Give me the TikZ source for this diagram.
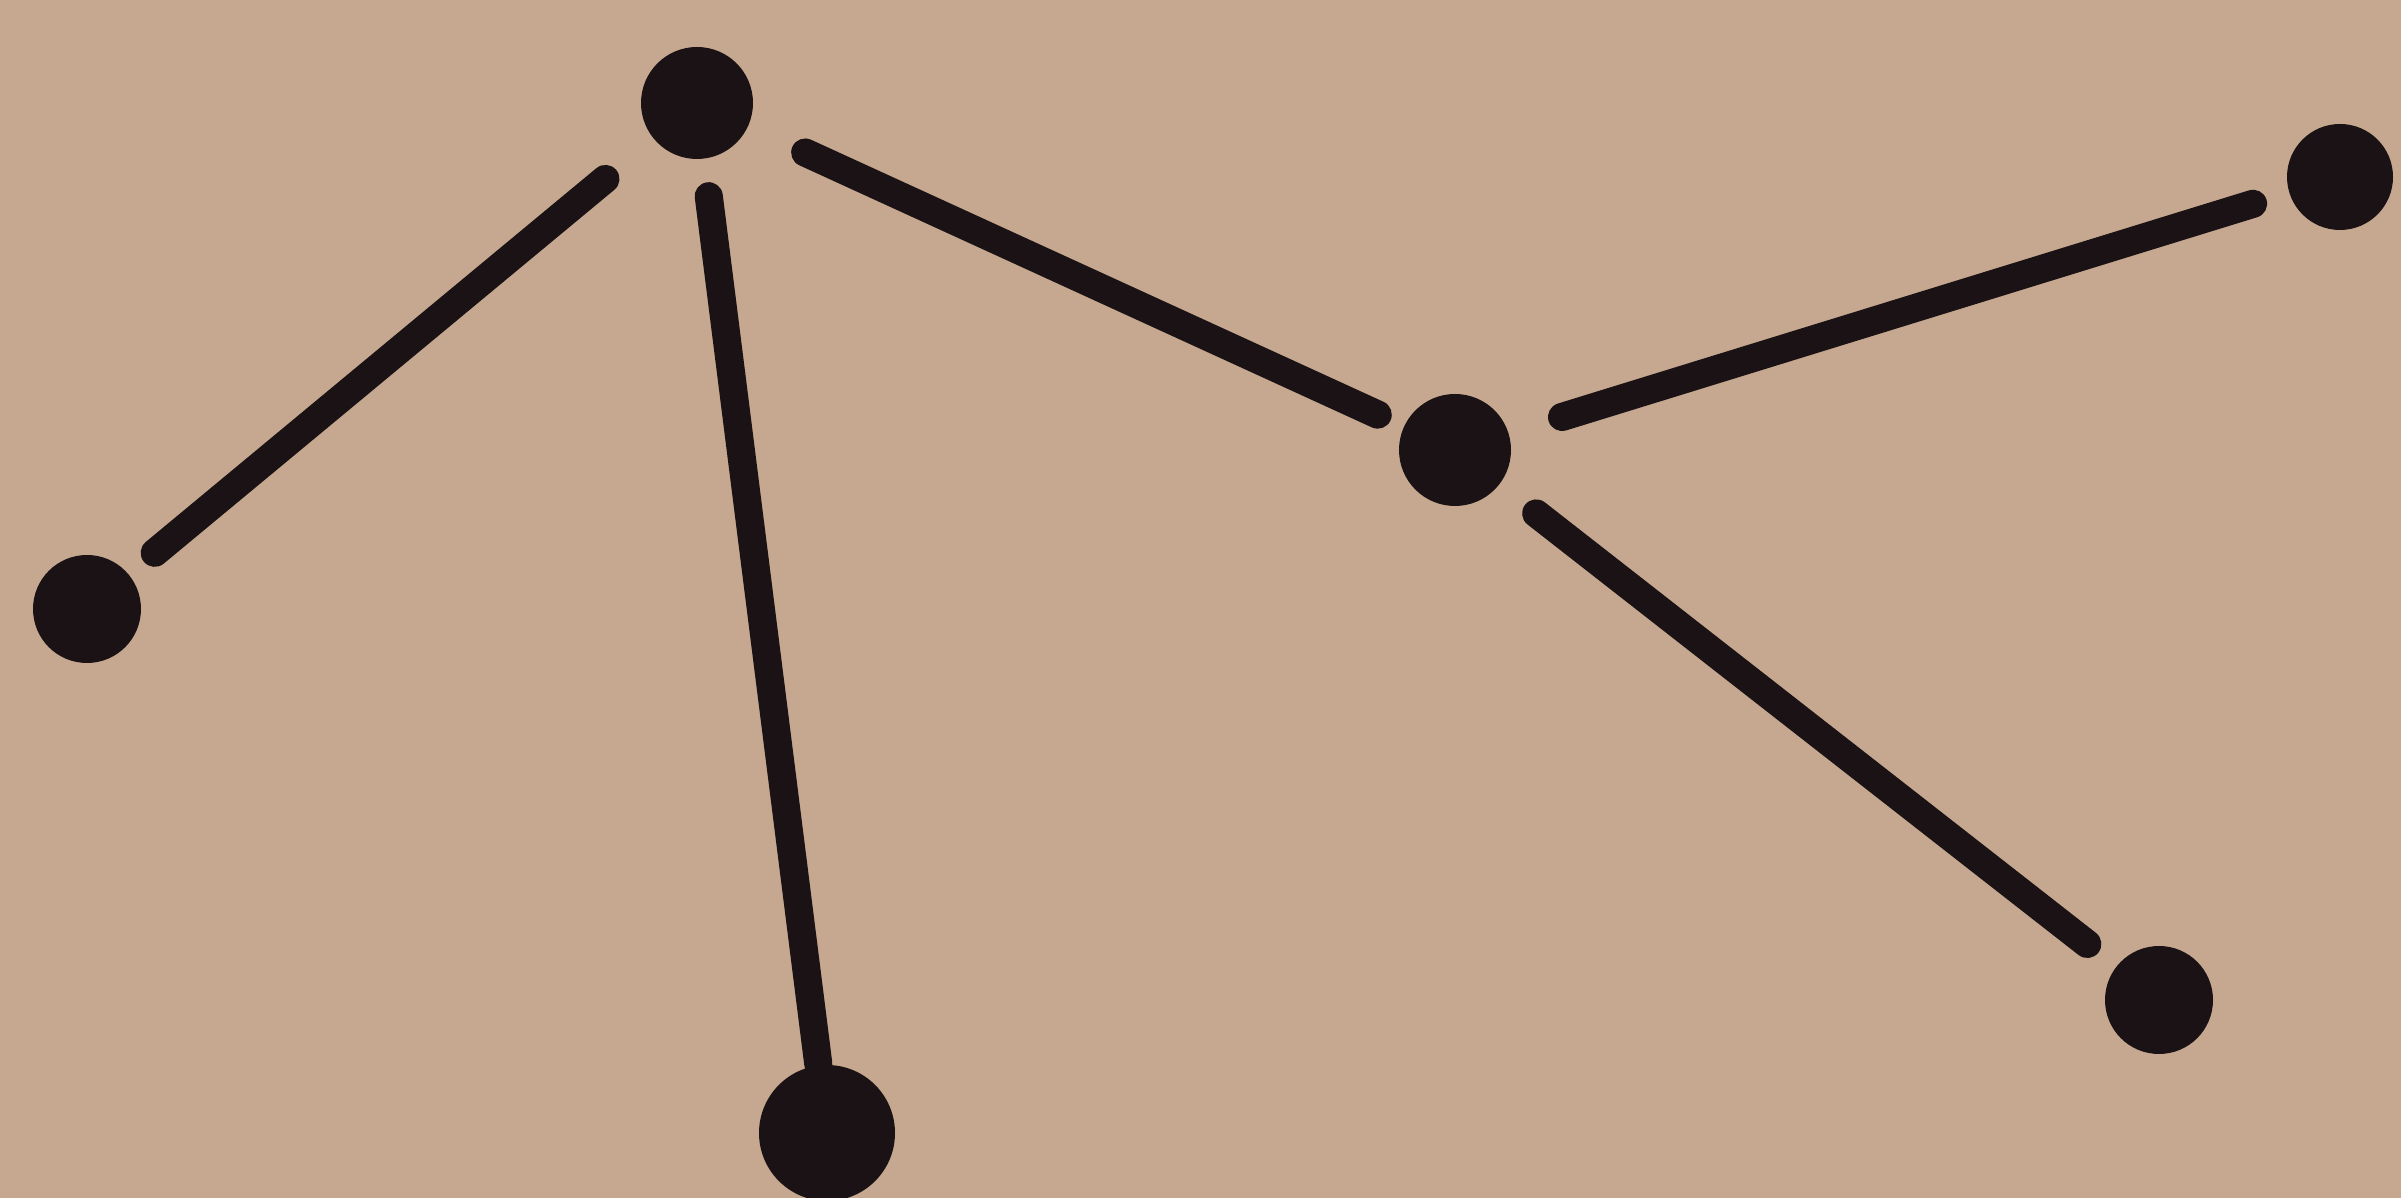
\documentclass[tikz,border=0pt]{standalone}
\usetikzlibrary{calc}
\definecolor{paper}{RGB}{197,168,143}
\definecolor{ink}{RGB}{26,18,20}
\tikzset{vertex/.style={circle,fill=ink,inner sep=0pt,outer sep=0pt,minimum size=#1},
  twig/.style={draw=ink,line width=8pt,line cap=round}}
\begin{document}
\begin{tikzpicture}[scale=1]
\useasboundingbox (0,0) rectangle (24.01,11.98);
\fill[paper] (0,0) rectangle (24.01,11.98);
\node[vertex=1.12cm] (top) at (6.97,10.95){};
\node[vertex=1.08cm] (left) at (.87,5.89){};
\node[vertex=1.36cm] (bottom) at (8.27,.65){};
\node[vertex=1.12cm] (mid) at (14.55,7.48){};
\node[vertex=1.06cm] (far) at (23.40,10.21){};
\node[vertex=1.08cm] (low) at (21.59,1.98){};
\draw[twig,shorten <=.63cm,shorten >=.34cm] (top)--(left);
\draw[twig,shorten <=.38cm,shorten >=.02cm] (top)--(bottom);
\draw[twig,shorten <=.63cm,shorten >=.29cm] (top)--(mid);
\draw[twig,shorten <=.56cm,shorten >=.38cm] (mid)--(far);
\draw[twig,shorten <=.47cm,shorten >=.37cm] (mid)--(low);
\end{tikzpicture}
\end{document}
